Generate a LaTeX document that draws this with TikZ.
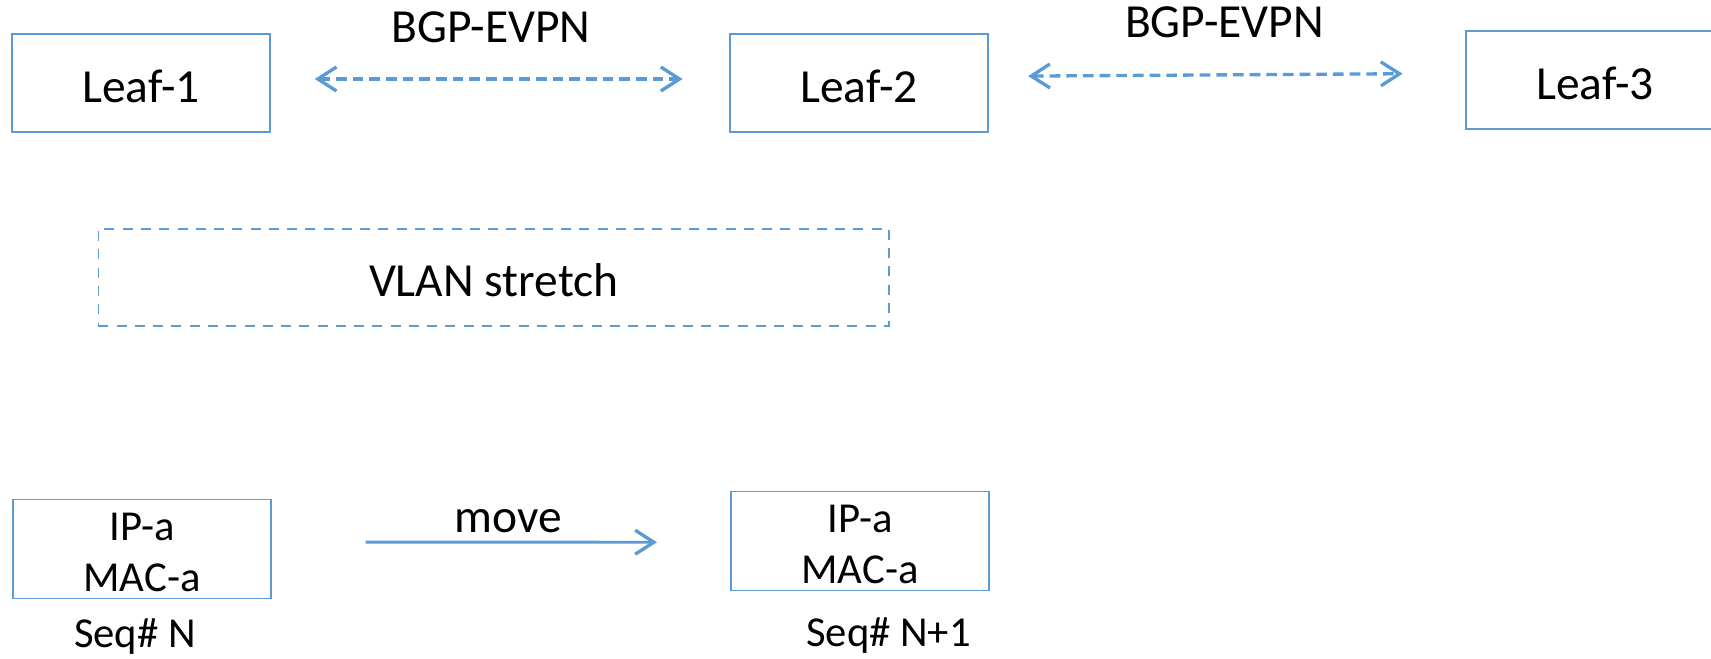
\documentclass[tikz,border=0pt]{standalone}
\usepackage{fontspec}
\setmainfont{Carlito}
\usepackage{xcolor}
\usepackage{tikz}
\usetikzlibrary{arrows.meta}
\definecolor{edge}{HTML}{5B9BD5}
\definecolor{ink}{HTML}{000000}
\tikzset{
  barb/.tip={Straight Barb[length=14pt,width=18pt,line width=2.5pt]},
  leaf/.style={draw=edge, line width=1.1pt, minimum width=193.5pt, minimum height=73.5pt, inner sep=0pt, text=ink, font=\fontsize{35.6}{40}\selectfont, text height=34.7pt, text depth=5pt},
  host/.style={draw=edge, line width=1.1pt, minimum width=193.5pt, minimum height=74.25pt, inner sep=0pt, text=ink, align=center, font=\fontsize{32}{38.3}\selectfont, text height=64.5pt, text depth=0pt},
  zone/.style={draw=edge, line width=1.2pt, dash pattern=on 7.5pt off 6.2pt, minimum width=593pt, minimum height=72.75pt, inner sep=0pt, text=ink, font=\fontsize{35.6}{40}\selectfont, text height=34.2pt, text depth=5pt},
  peer/.style={draw=edge, line width=2.5pt, dash pattern=on 8pt off 4.5pt, {barb}-{barb}},
  mv/.style={draw=edge, line width=2.2pt, -{barb}},
  lab/.style={text=ink, anchor=base, font=\fontsize{35.6}{40}\selectfont},
  labs/.style={text=ink, anchor=base, font=\fontsize{32}{36}\selectfont}
}
\begin{document}
\begin{tikzpicture}[x=0.75pt, y=-0.75pt]
  \clip (0,0) rectangle (1711,658);
  % leaves
  \node[leaf] (leaf1) at (141,83) {Leaf-1};
  \node[leaf] (leaf2) at (859,83) {Leaf-2};
  \node[leaf] (leaf3) at (1595,80) {Leaf-3};
  \draw[peer, shorten <=33pt, shorten >=35pt] ([yshift=3pt]leaf1.east) -- ([yshift=3pt]leaf2.west);
  \draw[peer, shorten <=29.6pt, shorten >=47pt] ([yshift=5pt]leaf2.east) -- ([yshift=5pt]leaf3.west);
  \node[lab] (bgp1) at (491,42.8) {BGP-EVPN};
  \node[lab] (bgp2) at (1224.5,37.5) {BGP-EVPN};
  % stretched vlan
  \node[zone] (vlan) at (493.7,277.5) {VLAN stretch};
  % host move
  \node[host] (hostA) at (142,548.8) {IP-a\\MAC-a};
  \node[host] (hostB) at (860,540.9) {IP-a\\MAC-a};
  \draw[mv, shorten <=70.5pt, shorten >=55pt] ([yshift=5pt]hostA.east) -- ([yshift=-1pt]hostB.west);
  \node[lab] (move) at (508,532.7) {move};
  \node[labs] (seqA) at (135,647.5) {Seq\# N};
  \node[labs] (seqB) at (888.5,646) {Seq\# N+1};
\end{tikzpicture}
\end{document}
